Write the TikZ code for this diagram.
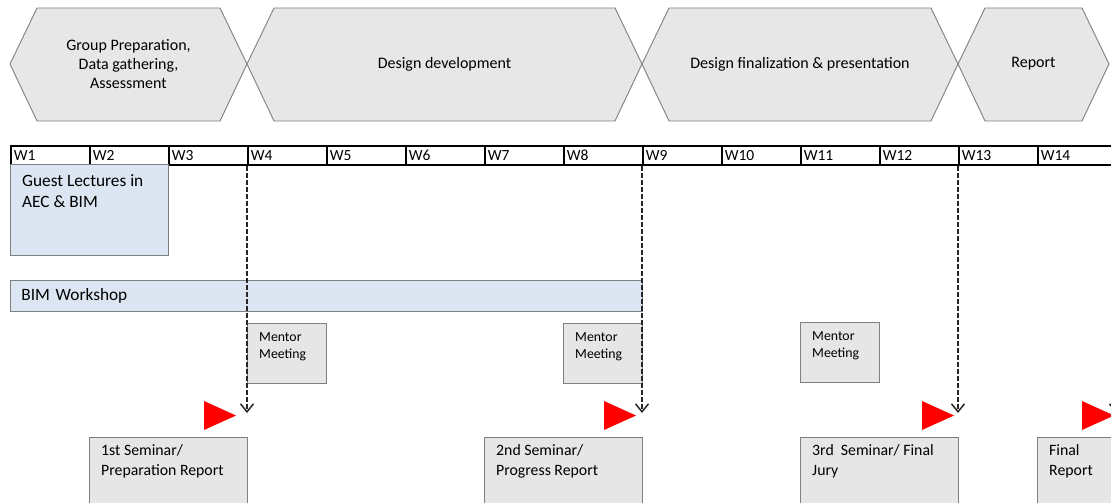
\documentclass[tikz,border=0pt]{standalone}
\usepackage{fontspec}
\setmainfont{Carlito}
\usetikzlibrary{positioning,arrows.meta,calc}

\definecolor{phasegray}{HTML}{E7E7E7}
\definecolor{edgegray}{HTML}{7F7F7F}
\definecolor{lightblue}{HTML}{DCE6F2}
\definecolor{boxgray}{HTML}{E6E6E6}

\tikzset{
  phase/.style={draw=edgegray, fill=phasegray, line width=0.9pt},
  phaselbl/.style={align=center, font=\fontsize{16}{19}\selectfont},
  weekcell/.style={draw=black, line width=1.6pt, anchor=north west,
    minimum height=19pt, text width=73pt, inner xsep=3pt, inner ysep=0pt,
    align=left, font=\fontsize{15.5}{16}\selectfont},
  bluebox/.style={draw=edgegray, fill=lightblue, line width=0.8pt, anchor=north west},
  graybox/.style={draw=edgegray, fill=boxgray, line width=0.8pt, anchor=north west},
  boxlbl/.style={align=left, inner sep=0pt, anchor=north west},
  deadline/.style={draw=black!85, line width=1.5pt, dash pattern=on 5pt off 2pt,
    -{Straight Barb[length=8pt,width=13pt,line width=1.5pt]}},
  flag/.style={fill=red}
}

\begin{document}
\begin{tikzpicture}[x=1pt,y=-1pt]
\useasboundingbox (0,0) rectangle (1111,503);

% project phases
\foreach \l/\r/\txt [count=\i] in {10/247/{Group Preparation,\\Data gathering,\\Assessment},
    247/642/{Design development}, 642/958/{Design finalization \& presentation},
    958/1109/{Report}} {
  \draw[phase] (\l,64) -- (\l+27,8) -- (\r-27,8) -- (\r,64) -- (\r-27,121) -- (\l+27,121) -- cycle;
  \node[phaselbl] (ph\i) at ({(\l+\r)/2},64) {\txt};
}

% weeks
\foreach \i in {1,...,14}
  \node[weekcell] (w\i) at ({10+(\i-1)*79},145) {W\i};

% lectures and workshop
\node[bluebox, minimum width=158pt, minimum height=91pt] (glec) at (10,164) {};
\node[boxlbl, font=\fontsize{17.3}{21}\selectfont, below right=10pt and 12pt of glec.north west]
  {Guest Lectures in\\AEC \& BIM};
\node[bluebox, minimum width=632pt, minimum height=31pt, text width=610pt,
  inner xsep=11pt, align=left, font=\fontsize{17.3}{18}\selectfont] (bimws) at (10,280) {BIM Workshop};

% mentor meetings
\foreach \x/\y [count=\i] in {247/323, 563/323, 800/322} {
  \node[graybox, minimum width=79pt, minimum height=60pt] (mm\i) at (\x,\y) {};
  \node[boxlbl, font=\fontsize{13.8}{17}\selectfont, below right=9pt and 12pt of mm\i.north west]
    {Mentor\\Meeting};
}

% seminars and reports
\foreach \x/\txt [count=\i] in {89/{1st Seminar/\\Preparation Report}, 484/{2nd Seminar/\\Progress Report},
    800/{3rd\ \ Seminar/ Final\\Jury}, 1037/{Final\\Report}} {
  \node[graybox, minimum width=158pt, minimum height=75pt] (sem\i) at (\x,437) {};
  \node[boxlbl, font=\fontsize{15.8}{20}\selectfont, below right=7pt and 12pt of sem\i.north west] {\txt};
}

% deadlines
\coordinate (tip1) at (247,413);
\coordinate (tip2) at (642,413);
\coordinate (tip3) at (958,413);
\coordinate (tip4) at (1116,413);
\coordinate (top4) at (1116,164);
\draw[deadline] (w4.south west) -- (tip1);
\draw[deadline] (w9.south west) -- (tip2);
\draw[deadline] (w13.south west) -- (tip3);
\draw[deadline] (top4) -- (tip4);

% milestone flags
\foreach \x in {204, 604, 922, 1082}
  \fill[flag] (\x,401) -- (\x+32,415.5) -- (\x,430) -- cycle;
\end{tikzpicture}
\end{document}
